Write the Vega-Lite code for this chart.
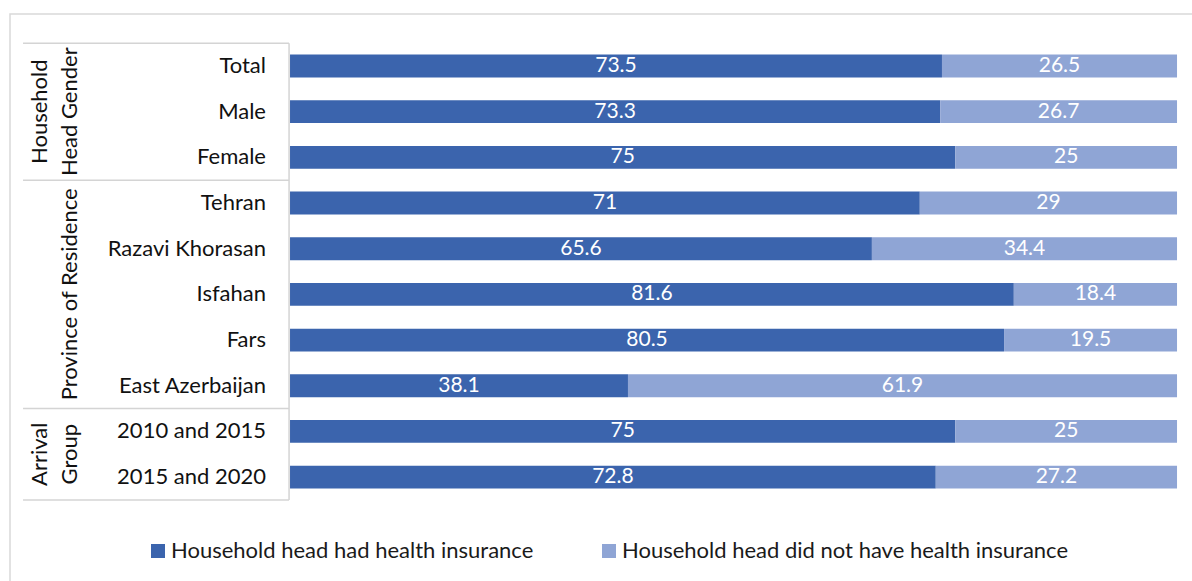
{
  "$schema": "https://vega.github.io/schema/vega-lite/v6.json",
  "width": 1190,
  "height": 575,
  "padding": {"left": 10, "top": 14, "right": 0, "bottom": 0},
  "background": "white",
  "config": {
    "view": {"stroke": "#d9d9d9", "strokeWidth": 1.5},
    "font": "Lato",
    "text": {"font": "Lato", "fontSize": 21},
    "legend": {"labelFont": "Lato"}
  },
  "datasets": {
    "bars": [
      {"cat": "Total", "status": "Household head had health insurance", "pct": 73.5, "seq": 1},
      {"cat": "Total", "status": "Household head did not have health insurance", "pct": 26.5, "seq": 2},
      {"cat": "Male", "status": "Household head had health insurance", "pct": 73.3, "seq": 1},
      {"cat": "Male", "status": "Household head did not have health insurance", "pct": 26.7, "seq": 2},
      {"cat": "Female", "status": "Household head had health insurance", "pct": 75, "seq": 1},
      {"cat": "Female", "status": "Household head did not have health insurance", "pct": 25, "seq": 2},
      {"cat": "Tehran", "status": "Household head had health insurance", "pct": 71, "seq": 1},
      {"cat": "Tehran", "status": "Household head did not have health insurance", "pct": 29, "seq": 2},
      {"cat": "Razavi Khorasan", "status": "Household head had health insurance", "pct": 65.6, "seq": 1},
      {"cat": "Razavi Khorasan", "status": "Household head did not have health insurance", "pct": 34.4, "seq": 2},
      {"cat": "Isfahan", "status": "Household head had health insurance", "pct": 81.6, "seq": 1},
      {"cat": "Isfahan", "status": "Household head did not have health insurance", "pct": 18.4, "seq": 2},
      {"cat": "Fars", "status": "Household head had health insurance", "pct": 80.5, "seq": 1},
      {"cat": "Fars", "status": "Household head did not have health insurance", "pct": 19.5, "seq": 2},
      {"cat": "East Azerbaijan", "status": "Household head had health insurance", "pct": 38.1, "seq": 1},
      {"cat": "East Azerbaijan", "status": "Household head did not have health insurance", "pct": 61.9, "seq": 2},
      {"cat": "2010 and 2015", "status": "Household head had health insurance", "pct": 75, "seq": 1},
      {"cat": "2010 and 2015", "status": "Household head did not have health insurance", "pct": 25, "seq": 2},
      {"cat": "2015 and 2020", "status": "Household head had health insurance", "pct": 72.8, "seq": 1},
      {"cat": "2015 and 2020", "status": "Household head did not have health insurance", "pct": 27.2, "seq": 2}
    ]
  },
  "data": {"name": "bars"},
  "layer": [
    {
      "mark": {"type": "bar", "height": {"band": 0.5}},
      "encoding": {
        "x": {"field": "pct", "type": "quantitative", "stack": "zero",
              "scale": {"domain": [-31.57, 102.59], "nice": false, "zero": false}, "axis": null},
        "y": {"field": "cat", "type": "nominal",
              "scale": {"domain": ["Total", "Male", "Female", "Tehran", "Razavi Khorasan", "Isfahan", "Fars", "East Azerbaijan", "2010 and 2015", "2015 and 2020", " "],
                        "paddingInner": 0, "paddingOuter": 0.795, "align": 0.402},
              "axis": null},
        "color": {"field": "status", "type": "nominal",
                  "scale": {"domain": ["Household head had health insurance", "Household head did not have health insurance"],
                            "range": ["#3b64ad", "#8fa5d5"]},
                  "legend": {"orient": "none", "legendX": 137, "legendY": 526, "direction": "horizontal", "title": null,
                             "symbolType": "square", "symbolSize": 196, "labelFontSize": 22, "labelColor": "#1a1a1a",
                             "labelLimit": 600, "columnPadding": 64, "labelOffset": 2, "padding": 0, "symbolStrokeWidth": 0}},
        "order": {"field": "seq", "type": "quantitative"}
      }
    },
    {
      "mark": {"type": "text", "color": "white", "align": "center", "baseline": "middle", "fontSize": 21},
      "encoding": {
        "x": {"field": "pct", "type": "quantitative", "stack": "zero", "bandPosition": 0.5},
        "y": {"field": "cat", "type": "nominal"},
        "detail": {"field": "status", "type": "nominal"},
        "order": {"field": "seq", "type": "quantitative"},
        "text": {"field": "pct", "type": "nominal"}
      }
    },
    {
      "transform": [{"filter": "datum.seq == 1"}],
      "mark": {"type": "text", "color": "#111111", "align": "right", "baseline": "middle", "fontSize": 22},
      "encoding": {
        "x": {"datum": -2.71},
        "y": {"field": "cat", "type": "nominal"},
        "text": {"field": "cat", "type": "nominal"}
      }
    },
    {
      "data": {"values": [{"cat": "Male", "label": ["Household", "Head Gender"]}]},
      "mark": {"type": "text", "color": "#111111", "align": "center", "baseline": "middle", "angle": 270, "fontSize": 22, "lineHeight": 30},
      "encoding": {
        "x": {"datum": -28.18},
        "y": {"field": "cat", "type": "nominal", "bandPosition": 0.5},
        "text": {"field": "label"}
      }
    },
    {
      "data": {"values": [{"cat": "Isfahan", "label": "Province of Residence"}]},
      "mark": {"type": "text", "color": "#111111", "align": "center", "baseline": "middle", "angle": 270, "fontSize": 22},
      "encoding": {
        "x": {"datum": -24.80},
        "y": {"field": "cat", "type": "nominal", "bandPosition": 0.5},
        "text": {"field": "label"}
      }
    },
    {
      "data": {"values": [{"cat": "2010 and 2015", "label": ["Arrival", "Group"]}]},
      "mark": {"type": "text", "color": "#111111", "align": "center", "baseline": "middle", "angle": 270, "fontSize": 22, "lineHeight": 30},
      "encoding": {
        "x": {"datum": -28.18},
        "y": {"field": "cat", "type": "nominal", "bandPosition": 1},
        "text": {"field": "label"}
      }
    },
    {
      "data": {"values": [{"cat": "Total"}, {"cat": "Tehran"}, {"cat": "2010 and 2015"}]},
      "mark": {"type": "rule", "color": "#d4d4d4", "strokeWidth": 1.5},
      "encoding": {
        "x": {"datum": -30.10},
        "x2": {"datum": -0.11},
        "y": {"field": "cat", "type": "nominal", "bandPosition": 0}
      }
    },
    {
      "data": {"values": [{"cat": "2015 and 2020"}]},
      "mark": {"type": "rule", "color": "#d4d4d4", "strokeWidth": 1.5},
      "encoding": {
        "x": {"datum": -30.10},
        "x2": {"datum": -0.11},
        "y": {"field": "cat", "type": "nominal", "bandPosition": 1}
      }
    },
    {
      "data": {"values": [{"cat": "Total", "end": "2015 and 2020"}]},
      "mark": {"type": "rule", "color": "#d4d4d4", "strokeWidth": 1.5},
      "encoding": {
        "x": {"datum": -0.11},
        "y": {"field": "cat", "type": "nominal", "bandPosition": 0},
        "y2": {"field": "end", "bandPosition": 1}
      }
    }
  ]
}
